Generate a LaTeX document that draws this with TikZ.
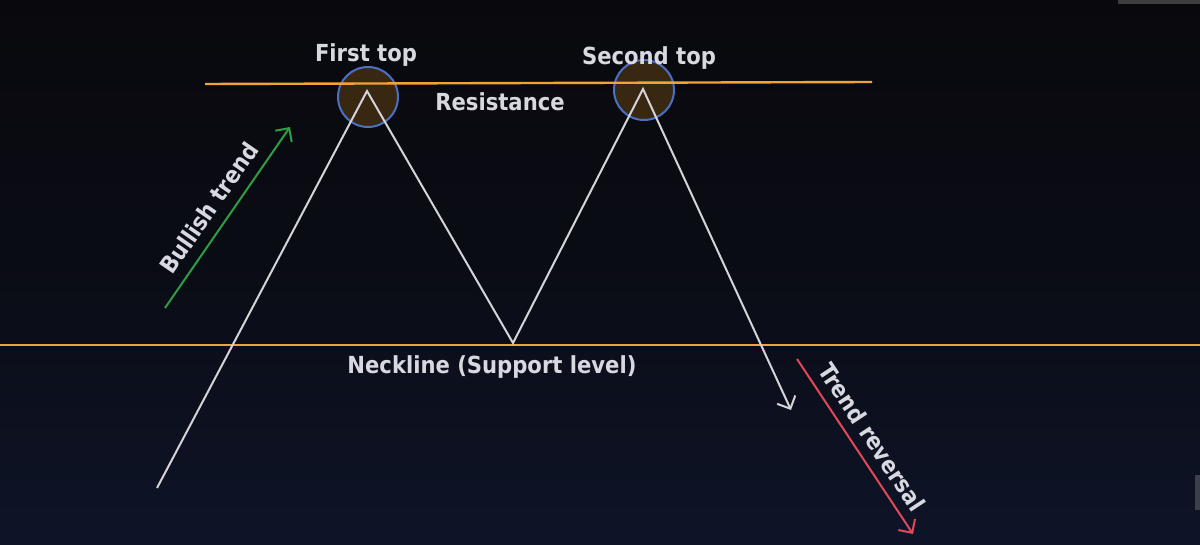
\documentclass[tikz,border=0pt]{standalone}
\usepackage{fontspec}
\setmainfont{DejaVu Sans Condensed}
\usetikzlibrary{arrows.meta}
\definecolor{bgtop}{HTML}{09090D}
\definecolor{bgbot}{HTML}{0E1428}
\definecolor{lvl}{HTML}{F2A336}
\definecolor{price}{HTML}{D4D4D8}
\definecolor{circfill}{HTML}{382812}
\definecolor{circline}{HTML}{4A70C4}
\definecolor{bull}{HTML}{2E9E44}
\definecolor{bear}{HTML}{E2485A}
\definecolor{txt}{HTML}{D8D8E0}
\tikzset{
  level/.style={draw=lvl, line width=2.4pt},
  priceline/.style={draw=price, line width=2pt, line join=miter},
  topcircle/.style={circle, draw=circline, fill=circfill, line width=2pt, minimum size=60pt, inner sep=0pt},
  lbl/.style={text=txt, font=\bfseries\fontsize{23.5}{27}\selectfont, inner sep=0pt},
  tip/.style={-{Straight Barb[length=10pt,width=20pt,line width=2pt]}}
}
\begin{document}
\begin{tikzpicture}[x=1pt,y=-1pt]
\useasboundingbox (0,0) rectangle (1200,545);
\shade[top color=bgtop, bottom color=bgbot, middle color=bgtop!70!bgbot] (0,0) rectangle (1200,545);
% screenshot artefacts
\fill[gray!45!bgtop] (1118,0) rectangle (1200,4);
\fill[gray!40!bgbot] (1195,475) rectangle (1200,510);
% circles behind lines
\node[topcircle] (c1) at (368,97) {};
\node[topcircle] (c2) at (644,90) {};
% levels
\coordinate (r0) at (205,84);
\coordinate (r1) at (872,82);
\draw[level] (r0) -- (r1);
\coordinate (n0) at (0,345);
\coordinate (n1) at (1200,345);
\draw[level] (n0) -- (n1);
% price path
\coordinate (p0) at (157,488);
\coordinate (p1) at (367,91);
\coordinate (p2) at (513,343);
\coordinate (p3) at (643,89);
\coordinate (p4) at (791,410);
\draw[priceline, tip] (p0) -- (p1) -- (p2) -- (p3) -- (p4);
% trend arrows
\coordinate (g0) at (165,308);
\coordinate (g1) at (290,127);
\draw[draw=bull, line width=2pt, tip] (g0) -- (g1);
\coordinate (b0) at (797,359);
\coordinate (b1) at (913,534);
\draw[draw=bear, line width=2pt, tip] (b0) -- (b1);
% labels
\node[lbl] (t1) at (366,55) {First top};
\node[lbl] (t2) at (649,58) {Second top};
\node[lbl] (res) at (500,102) {Resistance};
\node[lbl] (neck) at (492,367) {Neckline (Support level)};
\node[lbl, rotate=55.4] (bt) at (209,208) {Bullish trend};
\node[lbl, rotate=-56.5] (tr) at (872,437) {Trend reversal};
\end{tikzpicture}
\end{document}
